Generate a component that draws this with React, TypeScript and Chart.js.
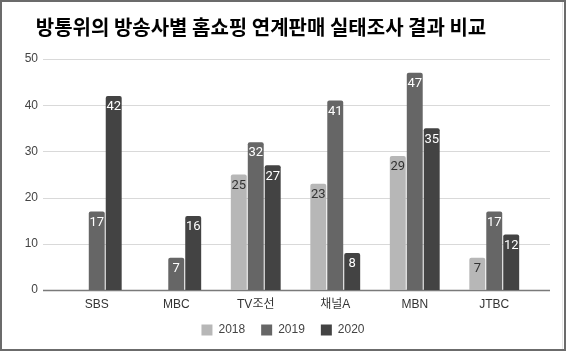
import React, { useEffect, useRef } from "react";
import { Chart, registerables } from "chart.js";

Chart.register(...registerables);

const title = "방통위의 방송사별 홈쇼핑 연계판매 실태조사 결과 비교";
const categories = ["SBS", "MBC", "TV조선", "채널A", "MBN", "JTBC"];
const seriesNames = ["2018", "2019", "2020"];
const values2018 = [null, null, 25, 23, 29, 7];
const values2019 = [17, 7, 32, 41, 47, 17];
const values2020 = [42, 16, 27, 8, 35, 12];
const yMin = 0;
const yMax = 50;
const yStep = 10;

const colors = ["#b7b7b7", "#666666", "#434343"];
const labelColors = ["#333333", "#ffffff", "#ffffff"];
const FONT = "'Liberation Sans', Arial, 'Noto Sans CJK KR', sans-serif";
const LABEL_FONT = "Roboto, 'Noto Sans CJK KR', sans-serif";

const framePlugin = {
  id: "frame",
  beforeDraw(chart: any) {
    const ctx = chart.ctx;
    ctx.save();
    ctx.fillStyle = "#ffffff";
    ctx.fillRect(0, 0, chart.width, chart.height);
    ctx.restore();
  },
  afterLayout(chart: any) {
    const lg = chart.legend;
    if (lg) {
      lg.top -= 4;
      lg.bottom -= 4;
    }
  },
  afterDraw(chart: any) {
    const ctx = chart.ctx;
    ctx.save();
    ctx.fillStyle = "#000000";
    ctx.font = "bold 20px 'Noto Sans CJK KR', sans-serif";
    ctx.textAlign = "center";
    ctx.textBaseline = "middle";
    ctx.fillText(title, 261, 27);
    ctx.strokeStyle = "#e6e6e6";
    ctx.lineWidth = 1;
    ctx.beginPath();
    ctx.moveTo(562.5, 2);
    ctx.lineTo(562.5, 349);
    ctx.stroke();
    ctx.strokeStyle = "#6b6b6b";
    ctx.lineWidth = 2;
    ctx.strokeRect(1, 1, 564, 349);
    ctx.restore();
  },
};

const gridPlugin = {
  id: "customGrid",
  beforeDatasetsDraw(chart: any) {
    const ctx = chart.ctx;
    const y = chart.scales.y;
    const area = chart.chartArea;
    const x0 = area.left - 14;
    const x1 = area.right + 16;
    ctx.save();
    for (let v = yMin; v <= yMax; v += yStep) {
      const py = Math.round(y.getPixelForValue(v)) + 0.5;
      ctx.strokeStyle = v === 0 ? "#7a7a7a" : "#d9d9d9";
      ctx.lineWidth = v === 0 ? 1.5 : 1;
      ctx.beginPath();
      ctx.moveTo(x0, py);
      ctx.lineTo(x1, py);
      ctx.stroke();
    }
    ctx.restore();
  },
};

const valueLabelPlugin = {
  id: "valueLabels",
  afterDatasetsDraw(chart: any) {
    const ctx = chart.ctx;
    ctx.save();
    ctx.font = `13px ${LABEL_FONT}`;
    ctx.textAlign = "center";
    ctx.textBaseline = "middle";
    chart.data.datasets.forEach((ds: any, di: number) => {
      const meta = chart.getDatasetMeta(di);
      meta.data.forEach((bar: any, i: number) => {
        const v = ds.data[i];
        if (v === null || v === undefined) return;
        ctx.fillStyle = labelColors[di];
        ctx.fillText(String(v), bar.x, bar.y + 11);
      });
    });
    ctx.restore();
  },
};

export default function App() {
  const ref = useRef<HTMLCanvasElement | null>(null);
  useEffect(() => {
    if (!ref.current) return;
    Chart.defaults.font.family = FONT;
    const allSeries = [values2018, values2019, values2020];
    const chart = new Chart(ref.current, {
      type: "bar",
      data: {
        labels: categories,
        datasets: allSeries.map((d, i) => ({
          label: seriesNames[i],
          data: d,
          backgroundColor: colors[i],
          borderWidth: 0,
          borderRadius: { topLeft: 2, topRight: 2, bottomLeft: 0, bottomRight: 0 },
          borderSkipped: "start",
          categoryPercentage: 0.64,
          barPercentage: 0.94,
        })),
      },
      options: {
        responsive: false,
        animation: false,
        devicePixelRatio: 1,
        layout: { padding: { top: 59, left: 20, right: 22, bottom: 2 } },
        plugins: {
          title: { display: false },
          tooltip: { enabled: false },
          legend: {
            display: true,
            position: "bottom",
            labels: {
              boxWidth: 11,
              boxHeight: 11,
              padding: 16,
              color: "#444444",
              font: { size: 12, family: FONT },
            },
          },
        },
        scales: {
          x: {
            grid: { display: false, drawTicks: false },
            border: { display: false },
            ticks: { color: "#333333", font: { size: 12, family: FONT }, padding: 7 },
            afterFit(scale: any) {
              scale.height = 22;
            },
          },
          y: {
            min: yMin,
            max: yMax,
            grid: { display: false, drawTicks: false },
            border: { display: false },
            ticks: { stepSize: yStep, color: "#444444", font: { size: 12, family: FONT }, padding: 19 },
            afterFit(scale: any) {
              scale.width = 37;
            },
          },
          yRightSpacer: {
            position: "right",
            min: yMin,
            max: yMax,
            grid: { display: false, drawTicks: false },
            border: { display: false },
            ticks: { display: false },
            afterFit(scale: any) {
              scale.width = 12;
            },
          },
        },
      },
      plugins: [framePlugin, gridPlugin, valueLabelPlugin],
    } as any);
    return () => chart.destroy();
  }, []);
  return (
    <div style={{ position: "absolute", left: 0, top: 0, width: 568, height: 352 }}>
      <canvas ref={ref} width={568} height={352} />
    </div>
  );
}
